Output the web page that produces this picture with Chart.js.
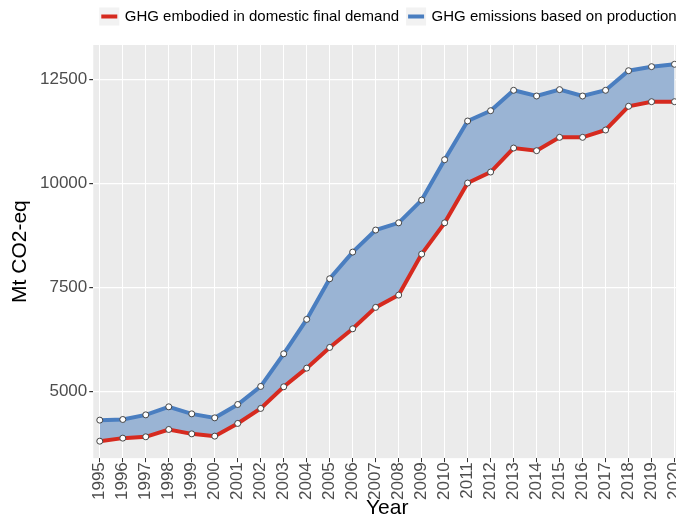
<!DOCTYPE html>
<html>
<head>
<meta charset="utf-8">
<script src="https://cdn.jsdelivr.net/npm/chart.js@4"></script>
<style>
  html, body { margin: 0; padding: 0; background: #fff; overflow: hidden; }
  #wrap { width: 676px; height: 519px; overflow: hidden; position: relative; }
  #canvas { position: absolute; left: 0; top: 0; }
</style>
</head>
<body>
<div id="wrap"><canvas id="canvas" width="695" height="519" style="width:695px;height:519px"></canvas></div>
<script>
// data (Mt CO2-eq)
const years = [1995, 1996, 1997, 1998, 1999, 2000, 2001, 2002, 2003, 2004, 2005, 2006, 2007,
               2008, 2009, 2010, 2011, 2012, 2013, 2014, 2015, 2016, 2017, 2018, 2019, 2020];
const demand = [3815, 3888, 3920, 4096, 3991, 3936, 4241, 4601, 5120, 5568, 6065, 6512, 7026,
                7321, 8305, 9055, 10010, 10274, 10850, 10786, 11107, 11107, 11283, 11852, 11962, 11962];
const production = [4320, 4336, 4447, 4640, 4471, 4375, 4696, 5129, 5912, 6738, 7713, 8353, 8882,
                    9055, 9602, 10570, 11499, 11746, 12236, 12099, 12252, 12099, 12236, 12706, 12803, 12860];
const yTicks = [5000, 7500, 10000, 12500];
const seriesNames = ['GHG embodied in domestic final demand', 'GHG emissions based on production'];
const seriesColors = ['#D62A1F', '#4A7EC0'];

const toPoints = arr => years.map((y, i) => ({ x: y, y: arr[i] }));

// grey panel, legend key boxes and legend placement like ggplot
const panelBg = {
  id: 'panelBg',
  afterInit(chart) {
    // leave some room between legend and panel
    const lg = chart.legend;
    const fit = lg.fit.bind(lg);
    lg.fit = function () { fit(); this.height += 11; };
  },
  afterLayout(chart) {
    // centre the legend over the (wider) panel instead of the canvas
    const lg = chart.legend;
    lg.left += 83;
    lg.width -= 83;
  },
  beforeDraw(chart) {
    const { ctx, chartArea: a } = chart;
    ctx.save();
    ctx.fillStyle = '#EBEBEB';
    ctx.fillRect(a.left, a.top, a.right - a.left, a.bottom - a.top);
    ctx.fillStyle = '#F2F2F2';
    (chart.legend.legendHitBoxes || []).forEach(hb => {
      const cy = hb.top + hb.height / 2;
      ctx.fillRect(hb.left - 2, cy - 9, 20, 18);
    });
    ctx.restore();
  }
};

new Chart(document.getElementById('canvas'), {
  type: 'line',
  data: {
    datasets: [
      {
        label: seriesNames[0],
        data: toPoints(demand),
        borderColor: seriesColors[0],
        borderWidth: 4,
        pointRadius: 3,
        pointBackgroundColor: '#fff',
        pointBorderColor: '#444',
        pointBorderWidth: 1,
        fill: false
      },
      {
        label: seriesNames[1],
        data: toPoints(production),
        borderColor: seriesColors[1],
        backgroundColor: '#9AB4D4',
        borderWidth: 4,
        pointRadius: 3,
        pointBackgroundColor: '#fff',
        pointBorderColor: '#444',
        pointBorderWidth: 1,
        fill: '-1'
      }
    ]
  },
  options: {
    responsive: false,
    animation: false,
    layout: { padding: 0 },
    plugins: {
      tooltip: { enabled: false },
      legend: {
        position: 'top',
        align: 'center',
        labels: {
          usePointStyle: true,
          pointStyle: 'line',
          pointStyleWidth: 16,
          padding: 9,
          color: '#000',
          font: { family: 'Liberation Sans', size: 15 },
          generateLabels: chart => {
            const items = Chart.defaults.plugins.legend.labels.generateLabels(chart);
            items.forEach(it => {
              it.strokeStyle = seriesColors[it.datasetIndex];
              it.lineWidth = 4;
              it.pointStyle = 'line';
            });
            return items;
          }
        }
      }
    },
    scales: {
      x: {
        type: 'linear',
        min: 1994.717,
        max: 2020.283,
        afterBuildTicks: s => { s.ticks = years.map(v => ({ value: v })); },
        border: { display: false },
        grid: { color: '#fff', lineWidth: 1, tickColor: '#333', tickLength: 4 },
        ticks: {
          minRotation: 90, maxRotation: 90, autoSkip: false, padding: 0,
          color: '#4D4D4D',
          font: { family: 'Liberation Sans', size: 17 },
          callback: v => String(v)
        },
        title: {
          display: true, text: 'Year', color: '#000',
          font: { family: 'Liberation Sans', size: 21, lineHeight: 1 },
          padding: { top: -2, bottom: 0 }
        }
      },
      y: {
        min: 3407,
        max: 13323,
        afterBuildTicks: s => { s.ticks = yTicks.map(v => ({ value: v })); },
        border: { display: false },
        grid: { color: '#fff', lineWidth: 1.2, tickColor: '#333', tickLength: 4 },
        ticks: {
          padding: 2,
          color: '#4D4D4D',
          font: { family: 'Liberation Sans', size: 17 },
          callback: v => String(v)
        },
        title: {
          display: true, text: 'Mt CO2-eq', color: '#000',
          font: { family: 'Liberation Sans', size: 21, lineHeight: 1 },
          padding: { top: 10, bottom: 7 }
        }
      }
    }
  },
  plugins: [panelBg]
});
</script>
</body>
</html>
